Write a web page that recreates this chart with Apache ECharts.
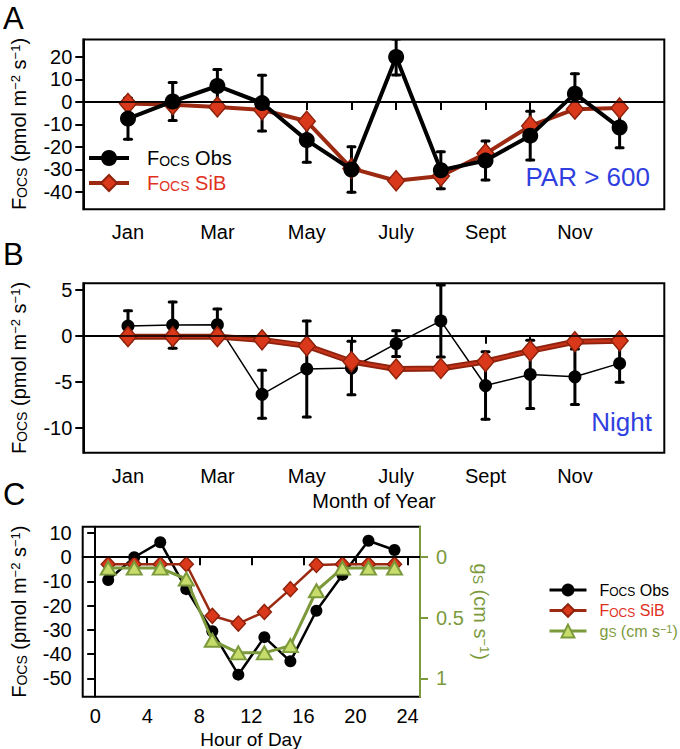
<!DOCTYPE html>
<html><head><meta charset="utf-8">
<script src="https://cdn.jsdelivr.net/npm/echarts@6/dist/echarts.min.js"></script>
<style>html,body{margin:0;padding:0;background:#fff}#c{width:680px;height:749px}</style>
</head><body><div id="c"></div><script>
// ---------- data ----------
const months = [1,2,3,4,5,6,7,8,9,10,11,12];
const monthLabelValues = [1,3,5,7,9,11];
const monthLabelText = ['Jan','Mar','May','July','Sept','Nov'];
// Panel A: PAR > 600
const obsDay    = [-7.4, 0.2, 7.1, -0.5, -17.0, -30.1, 20.0, -30.4, -26.1, -15.0, 3.7, -11.4];
const obsDayErr = [9.2, 8.5, 7.3, 12.4, 9.9, 10.1, 8.0, 8.2, 8.7, 10.9, 8.9, 9.0];
const sibDay    = [-0.7, -1.2, -2.2, -3.5, -8.6, -29.6, -35.1, -33.0, -23.0, -10.7, -3.2, -2.7];
// Panel B: Night
const obsNight    = [1.05, 1.15, 1.2, -6.35, -3.6, -3.5, -0.85, 1.6, -5.4, -4.2, -4.45, -3.0];
const obsNightErr = [1.65, 2.5, 1.7, 2.6, 5.2, 2.9, 1.4, 3.9, 3.65, 3.7, 3.0, 2.05];
const sibNight    = [-0.1, -0.1, -0.1, -0.45, -1.1, -2.8, -3.6, -3.55, -2.8, -1.65, -0.65, -0.55];
// Panel C: diurnal
const hours   = [1,3,5,7,9,11,13,15,17,19,21,23];
const obsHour = [-9.4, 0.0, 6.2, -13.2, -30.6, -48.5, -33.0, -43.0, -22.1, -7.3, 6.8, 3.0];
const sibHour = [-2.9, -2.9, -2.9, -2.9, -24.2, -27.4, -22.6, -13.2, -3.2, -2.9, -2.9, -2.9];
const gsHour  = [0.09, 0.09, 0.09, 0.18, 0.686, 0.79, 0.79, 0.73, 0.277, 0.09, 0.09, 0.09];
// tick values
const yTicksA = [-40,-30,-20,-10,0,10,20];
const yTicksB = [-10,-5,0,5];
const yTicksC = [-50,-40,-30,-20,-10,0,10];
const gsTicks = [0,0.5,1];
const hourTicks = [0,4,8,12,16,20,24];

// ---------- style ----------
const FF = 'Liberation Sans, Arial, Helvetica, sans-serif';
const RED_FILL = '#D9381A', RED_DARK = '#8E220C', RED_LINE = '#9C2A12', RED_TXT = '#E0301E';
const GREEN = '#7C9A3C', GREEN_FILL = '#C8DC6C', BLUE = '#3040E0';

const pairs = (xs, ys) => xs.map((x, i) => [x, ys[i]]);
const errs = (xs, ys, es) => xs.map((x, i) => [x, ys[i] - es[i], ys[i] + es[i]]);

function errRender(lw, cw) {
  return function (params, api) {
    const x = api.value(0), lo = api.value(1), hi = api.value(2);
    const p1 = api.coord([x, hi]), p2 = api.coord([x, lo]);
    const st = { stroke: '#000', lineWidth: lw, lineCap: 'round' };
    return { type: 'group', children: [
      { type: 'line', shape: { x1: p1[0], y1: p1[1], x2: p2[0], y2: p2[1] }, style: st },
      { type: 'line', shape: { x1: p1[0] - cw, y1: p1[1], x2: p1[0] + cw, y2: p1[1] }, style: st },
      { type: 'line', shape: { x1: p2[0] - cw, y1: p2[1], x2: p2[0] + cw, y2: p2[1] }, style: st }
    ]};
  };
}
const zeroLine = { silent: true, symbol: 'none', label: { show: false },
  lineStyle: { color: '#000', width: 1.5, type: 'solid' }, data: [{ yAxis: 0 }] };

function monthAxis(gi) {
  return { type: 'value', gridIndex: gi, min: 0, max: 13,
    axisLine: { show: true, lineStyle: { color: '#000', width: 2 } },
    axisTick: { show: true, customValues: months, length: 8, lineStyle: { color: '#000', width: 2 } },
    axisLabel: { show: true, customValues: monthLabelValues, margin: 13,
      formatter: v => monthLabelText[monthLabelValues.indexOf(v)] || '',
      color: '#000', fontSize: 20, fontFamily: FF },
    splitLine: { show: false } };
}
function fAxis(gi, mn, mx, ticks) {
  return { type: 'value', gridIndex: gi, min: mn, max: mx, position: 'left',
    axisLine: { show: true, lineStyle: { color: '#000', width: 2 } },
    axisTick: { show: true, customValues: ticks, length: 8, lineStyle: { color: '#000', width: 2 } },
    axisLabel: { show: true, customValues: ticks, margin: 11, color: '#000', fontSize: 20, fontFamily: FF },
    splitLine: { show: false } };
}

const richBase = {
  kf: { fontSize: 20, color: '#000', fontFamily: FF, padding: [0, 0, 0, 13] },
  k: { fontSize: 20, color: '#000', fontFamily: FF },
  ks: { fontSize: 14, color: '#000', fontFamily: FF, verticalAlign: 'bottom' },
  rf: { fontSize: 20, color: RED_TXT, fontFamily: FF, padding: [0, 0, 0, 13] },
  r: { fontSize: 20, color: RED_TXT, fontFamily: FF },
  rs: { fontSize: 14, color: RED_TXT, fontFamily: FF, verticalAlign: 'bottom' },
  sup: { fontSize: 13, color: '#000', fontFamily: FF, verticalAlign: 'top' }
};
const richSmall = {
  kf: { fontSize: 16, color: '#000', fontFamily: FF, padding: [0, 0, 0, 8] },
  k: { fontSize: 16, color: '#000', fontFamily: FF },
  ks: { fontSize: 12, color: '#000', fontFamily: FF, verticalAlign: 'bottom' },
  rf: { fontSize: 16, color: RED_TXT, fontFamily: FF, padding: [0, 0, 0, 8] },
  r: { fontSize: 16, color: RED_TXT, fontFamily: FF },
  rs: { fontSize: 12, color: RED_TXT, fontFamily: FF, verticalAlign: 'bottom' },
  gf: { fontSize: 16, color: GREEN, fontFamily: FF, padding: [0, 0, 0, 8] },
  g: { fontSize: 16, color: GREEN, fontFamily: FF },
  gs: { fontSize: 12, color: GREEN, fontFamily: FF, verticalAlign: 'bottom' },
  gsup: { fontSize: 11, color: GREEN, fontFamily: FF, verticalAlign: 'top' }
};
const fTitle = '{k|F}{ks|OCS}{k| (pmol m}{sup|\u22122}{k| s}{sup|\u22121}{k|)}';
function yTitle(x, y) {
  return { type: 'text', x: x, y: y, rotation: Math.PI / 2,
    style: { text: fTitle, rich: richBase, align: 'center', verticalAlign: 'middle', fill: '#000', font: '20px ' + FF } };
}
function plainText(x, y, txt, size, color, align) {
  return { type: 'text', x: x, y: y,
    style: { text: txt, fill: color, font: size + 'px ' + FF, align: align || 'center', verticalAlign: 'middle' } };
}

const option = {
  animation: false,
  backgroundColor: '#fff',
  grid: [
    { left: 83.3, top: 39.5, right: 15.7, height: 169.8, show: true, borderColor: '#000', borderWidth: 2, containLabel: false, outerBoundsMode: 'none' },
    { left: 83.3, top: 283.3, right: 15.7, height: 169.4, show: true, borderColor: '#000', borderWidth: 2, containLabel: false, outerBoundsMode: 'none' },
    { left: 82.7, top: 526.7, width: 337.3, height: 170, show: true, borderColor: '#000', borderWidth: 2, containLabel: false, outerBoundsMode: 'none' }
  ],
  xAxis: [
    monthAxis(0),
    monthAxis(1),
    { type: 'value', gridIndex: 2, min: -0.96, max: 24.96,
      axisLine: { show: true, lineStyle: { color: '#000', width: 2 } },
      axisTick: { show: true, customValues: hourTicks, length: 8, lineStyle: { color: '#000', width: 2 } },
      axisLabel: { show: true, customValues: hourTicks, margin: 9, color: '#000', fontSize: 20, fontFamily: FF },
      splitLine: { show: false } }
  ],
  yAxis: [
    fAxis(0, -47.8, 27.8, yTicksA),
    fAxis(1, -12.68, 5.68, yTicksB),
    fAxis(2, -57.6, 12.6, yTicksC),
    { type: 'value', gridIndex: 2, min: -0.252, max: 1.152, inverse: true, position: 'right',
      axisLine: { show: true, lineStyle: { color: GREEN, width: 2 } },
      axisTick: { show: true, customValues: gsTicks, length: 8, lineStyle: { color: GREEN, width: 2 } },
      axisLabel: { show: true, customValues: gsTicks, margin: 16, color: GREEN, fontSize: 20, fontFamily: FF },
      splitLine: { show: false } }
  ],
  legend: [
    { left: 87, top: 148, orient: 'vertical', padding: 0, itemGap: 5, itemWidth: 40, itemHeight: 20,
      lineStyle: { width: 4 },
      data: ['A_obs', 'A_sib'],
      formatter: n => n === 'A_obs' ? '{kf|F}{ks|OCS}{k| Obs}' : '{rf|F}{rs|OCS}{r| SiB}',
      textStyle: { rich: richBase } },
    { left: 548, top: 582, orient: 'vertical', padding: 0, itemGap: 4.5, itemWidth: 37, itemHeight: 16,
      lineStyle: { width: 3 },
      data: ['C_obs', 'C_sib', 'C_gs'],
      formatter: n => n === 'C_obs' ? '{kf|F}{ks|OCS}{k| Obs}' : (n === 'C_sib' ? '{rf|F}{rs|OCS}{r| SiB}' : '{gf|g}{gs|S}{g| (cm s}{gsup|\u22121}{g|)}'),
      textStyle: { rich: richSmall } }
  ],
  series: [
    // ---- A ----
    { type: 'custom', name: 'A_err', xAxisIndex: 0, yAxisIndex: 0, clip: true, z: 2,
      renderItem: errRender(3, 3.5), data: errs(months, obsDay, obsDayErr) },
    { type: 'line', name: 'A_sib', xAxisIndex: 0, yAxisIndex: 0, z: 3,
      data: pairs(months, sibDay), symbol: 'diamond', symbolSize: [17, 20],
      lineStyle: { color: RED_LINE, width: 4 },
      itemStyle: { color: RED_FILL, borderColor: RED_DARK, borderWidth: 1.5 } },
    { type: 'line', name: 'A_obs', xAxisIndex: 0, yAxisIndex: 0, z: 4,
      data: pairs(months, obsDay), symbol: 'circle', symbolSize: 16,
      lineStyle: { color: '#000', width: 4 }, itemStyle: { color: '#000' },
      markLine: zeroLine },
    // ---- B ----
    { type: 'custom', name: 'B_err', xAxisIndex: 1, yAxisIndex: 1, clip: true, z: 2,
      renderItem: errRender(3, 3.5), data: errs(months, obsNight, obsNightErr) },
    { type: 'line', name: 'B_obs', xAxisIndex: 1, yAxisIndex: 1, z: 2,
      data: pairs(months, obsNight), symbol: 'circle', symbolSize: 13,
      lineStyle: { color: '#000', width: 1.5 }, itemStyle: { color: '#000' },
      markLine: zeroLine },
    { type: 'line', name: 'B_sib_edge', xAxisIndex: 1, yAxisIndex: 1, z: 3,
      data: pairs(months, sibNight), symbol: 'none',
      lineStyle: { color: RED_DARK, width: 6 } },
    { type: 'line', name: 'B_sib', xAxisIndex: 1, yAxisIndex: 1, z: 4,
      data: pairs(months, sibNight), symbol: 'diamond', symbolSize: [17, 20],
      lineStyle: { color: '#C2321A', width: 2.5 },
      itemStyle: { color: RED_FILL, borderColor: RED_DARK, borderWidth: 1.5 } },
    // ---- C ----
    { type: 'line', name: 'C_obs', xAxisIndex: 2, yAxisIndex: 2, z: 2,
      data: pairs(hours, obsHour), symbol: 'circle', symbolSize: 12,
      lineStyle: { color: '#000', width: 2.5 }, itemStyle: { color: '#000' },
      markLine: zeroLine },
    { type: 'line', name: 'C_sib', xAxisIndex: 2, yAxisIndex: 2, z: 3,
      data: pairs(hours, sibHour), symbol: 'diamond', symbolSize: [14, 15],
      lineStyle: { color: RED_LINE, width: 2.5 },
      itemStyle: { color: RED_FILL, borderColor: RED_DARK, borderWidth: 1.5 } },
    { type: 'line', name: 'C_gs', xAxisIndex: 2, yAxisIndex: 3, z: 4,
      data: pairs(hours, gsHour), symbol: 'triangle', symbolSize: [15, 13],
      lineStyle: { color: GREEN, width: 3 },
      itemStyle: { color: GREEN_FILL, borderColor: GREEN, borderWidth: 2 } }
  ],
  graphic: [
    plainText(3, 18, 'A', 31, '#000', 'left'),
    plainText(3, 254, 'B', 31, '#000', 'left'),
    plainText(3, 494, 'C', 31, '#000', 'left'),
    yTitle(19, 124),
    yTitle(19, 368),
    yTitle(19, 611.7),
    plainText(650, 177, 'PAR > 600', 26, BLUE, 'right'),
    plainText(652, 422, 'Night', 26, BLUE, 'right'),
    plainText(374, 501, 'Month of Year', 20, '#000', 'center'),
    plainText(251, 739, 'Hour of Day', 19, '#000', 'center'),
    { type: 'text', x: 481, y: 611.7, rotation: -Math.PI / 2,
      style: { text: '{g|g}{gs|S}{g| (cm s}{gsup|\u22121}{g|)}', rich: {
        g: { fontSize: 20, color: GREEN, fontFamily: FF },
        gs: { fontSize: 14, color: GREEN, fontFamily: FF, verticalAlign: 'bottom' },
        gsup: { fontSize: 13, color: GREEN, fontFamily: FF, verticalAlign: 'top' } },
        align: 'center', verticalAlign: 'middle', fill: GREEN, font: '20px ' + FF } }
  ]
};
const chart = echarts.init(document.getElementById('c'), null, { renderer: 'svg' });
chart.setOption(option);
</script></body></html>
